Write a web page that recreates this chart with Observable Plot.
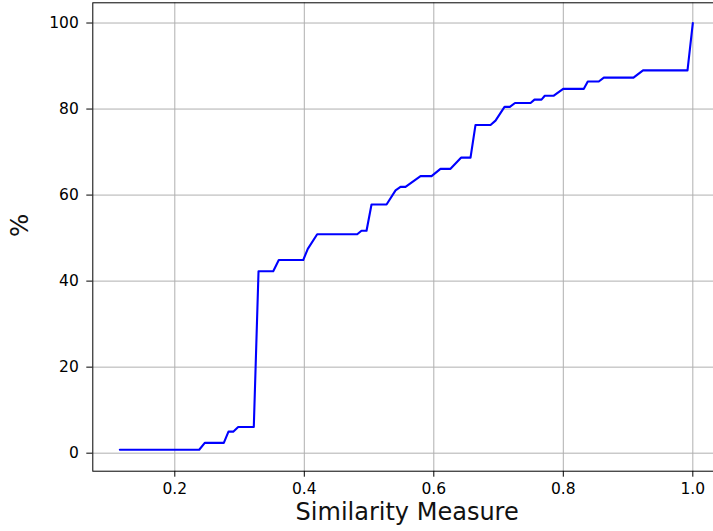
<!DOCTYPE html>
<html>
<head>
<meta charset="utf-8">
<script src="https://cdn.jsdelivr.net/npm/d3@7"></script>
<script src="https://cdn.jsdelivr.net/npm/@observablehq/plot@0.6"></script>
<style>
  html, body { margin: 0; padding: 0; background: white; }
  #chart { width: 713px; height: 531px; overflow: hidden; }
</style>
</head>
<body>
<div id="chart"></div>
<script>
// Similarity threshold (x) and cumulative percentage (y)
const similarity = [0.1151,0.2377,0.2463,0.2757,0.2829,0.2902,0.2979,0.3220,0.3293,0.3520,0.3606,0.3983,0.4054,0.4199,0.4817,0.4883,0.4961,0.5038,0.5270,0.5409,0.5486,0.5563,0.5795,0.5965,0.6103,0.6258,0.6420,0.6567,0.6644,0.6876,0.6953,0.7092,0.7174,0.7254,0.7494,0.7555,0.7663,0.7714,0.7853,0.7998,0.8317,0.8378,0.8548,0.8626,0.9084,0.9231,0.9918,1.0];
const percent    = [0.8,0.8,2.4,2.4,5.0,5.0,6.1,6.1,42.3,42.3,44.9,44.9,47.5,50.9,50.9,51.7,51.7,57.8,57.8,61.1,61.9,61.9,64.4,64.4,66.1,66.1,68.7,68.7,76.3,76.3,77.3,80.5,80.5,81.4,81.4,82.2,82.2,83.1,83.1,84.7,84.7,86.4,86.4,87.3,87.3,89.0,89.0,100];
const xTicks = [0.2, 0.4, 0.6, 0.8, 1.0];
const yTicks = [0, 20, 40, 60, 80, 100];
const xLabel = "Similarity Measure";
const yLabel = "%";

const data = similarity.map((s, i) => ({x: s, y: percent[i]}));

const chart = Plot.plot({
  width: 713,
  height: 531,
  marginLeft: 92.3,
  marginRight: -8,
  marginTop: 2.3,
  marginBottom: 60.3,
  style: {fontFamily: "DejaVu Sans", fontSize: "15.5px", color: "black", background: "white"},
  x: {domain: [0.07336, 1.0443], ticks: xTicks, tickFormat: d => d.toFixed(1), tickSize: 6, tickPadding: 6, label: null},
  y: {domain: [-4.19, 104.7], ticks: yTicks, tickFormat: d => String(d), tickSize: 6, tickPadding: 8, label: null},
  marks: [
    Plot.ruleX(xTicks, {stroke: "#b0b0b0", strokeWidth: 1}),
    Plot.ruleY(yTicks, {stroke: "#b0b0b0", strokeWidth: 1}),
    Plot.line(data, {x: "x", y: "y", stroke: "blue", strokeWidth: 2.1}),
    Plot.frame({stroke: "black", strokeWidth: 1}),
    Plot.text([xLabel], {frameAnchor: "bottom", dy: 48.5, fontSize: 24, fill: "#111"}),
    Plot.text([yLabel], {frameAnchor: "left", dx: -73, rotate: -90, fontSize: 24.5, fill: "#111"})
  ]
});
document.getElementById("chart").appendChild(chart);
</script>
</body>
</html>
